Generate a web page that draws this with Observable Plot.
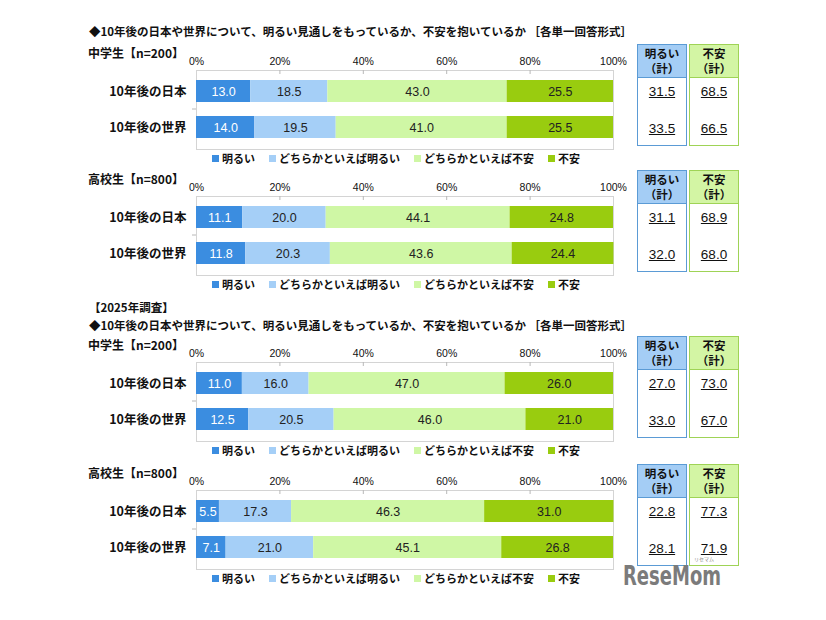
<!DOCTYPE html>
<html><head><meta charset="utf-8">
<script src="https://cdn.jsdelivr.net/npm/d3@7"></script>
<script src="https://cdn.jsdelivr.net/npm/@observablehq/plot@0.6"></script>
<style>
body{margin:0;background:#fff;}
#root{position:relative;width:826px;height:620px;overflow:hidden;font-family:"Noto Sans CJK JP",sans-serif;color:#111;background:#fff;}
.t{position:absolute;white-space:nowrap;font-weight:bold;}
.plot{position:absolute;left:0;}
.lg-swatches{font-family:"Noto Sans CJK JP",sans-serif !important;font-weight:bold !important;font-size:11px !important;color:#111 !important;min-height:0 !important;margin:0 !important;line-height:13px !important;}
.lg-swatch{margin-right:14px !important;}
.lg-swatch svg{margin-right:3px !important;}
.box{position:absolute;background:#fff;box-sizing:border-box;}
.box .hd{position:absolute;left:0;right:0;top:0;height:33px;box-sizing:border-box;text-align:center;font-weight:bold;font-size:11.5px;line-height:15px;padding-top:1px;}
.box .v{position:absolute;left:0;right:0;text-align:center;font-family:"Liberation Sans",Arial,sans-serif;font-size:13.5px;text-decoration:underline;color:#111;line-height:14px;}
.logo{position:absolute;font-family:"Liberation Sans Narrow","DejaVu Sans Condensed",sans-serif;font-weight:bold;color:#7b7b7b;font-size:26px;line-height:26px;white-space:nowrap;transform-origin:0 0;}
</style></head><body><div id="root"></div>
<script>
// ---- data ----
const categories = ["10年後の日本", "10年後の世界"];
const responses = ["明るい", "どちらかといえば明るい", "どちらかといえば不安", "不安"];
const colors = ["#3b8de0", "#a5cff7", "#cff7a5", "#99cc0f"];
const xTicks = [0, 20, 40, 60, 80, 100];
const panelLabels = ["中学生【n=200】", "高校生【n=800】", "中学生【n=200】", "高校生【n=800】"];
const questionTitle = "◆10年後の日本や世界について、明るい見通しをもっているか、不安を抱いているか ［各単一回答形式］";
const surveyLabel = "【2025年調査】";
const jhs2024 = [[13.0, 18.5, 43.0, 25.5], [14.0, 19.5, 41.0, 25.5]];
const hs2024 = [[11.1, 20.0, 44.1, 24.8], [11.8, 20.3, 43.6, 24.4]];
const jhs2025 = [[11.0, 16.0, 47.0, 26.0], [12.5, 20.5, 46.0, 21.0]];
const hs2025 = [[5.5, 17.3, 46.3, 31.0], [7.1, 21.0, 45.1, 26.8]];
const brightTotal = [[31.5, 33.5], [31.1, 32.0], [27.0, 33.0], [22.8, 28.1]];
const anxiousTotal = [[68.5, 66.5], [68.9, 68.0], [73.0, 67.0], [77.3, 71.9]];
const boxHeads = ["明るい<br>（計）", "不安<br>（計）"];

// ---- layout ----
const root = document.getElementById("root");
const panels = [jhs2024, hs2024, jhs2025, hs2025];
const frameTops = [70, 196, 362, 490];
const FH = 79;

function addText(txt, x, yc, size, extra) {
  const d = document.createElement("div");
  d.className = "t";
  d.textContent = txt;
  d.style.left = x + "px";
  d.style.fontSize = size + "px";
  d.style.lineHeight = size + "px";
  d.style.top = (yc - size / 2) + "px";
  if (extra) Object.assign(d.style, extra);
  root.appendChild(d);
  return d;
}

function panelPlot(vals) {
  const data = [];
  categories.forEach((c, i) => responses.forEach((r, j) => data.push({cat: c, resp: r, value: vals[i][j]})));
  return Plot.plot({
    width: 826, height: 22 + FH + 2,
    marginLeft: 196, marginRight: 213, marginTop: 22, marginBottom: 2,
    style: {fontFamily: "'Liberation Sans', Arial, sans-serif", background: "transparent", color: "#111"},
    x: {domain: [0, 100]},
    y: {domain: categories, paddingInner: 0.378, paddingOuter: 0.257},
    color: {domain: responses, range: colors},
    marks: [
      Plot.frame({stroke: "#d4d4d4"}),
      Plot.tickX(xTicks.slice(1, -1), {x: d => d, stroke: "#b8b8b8", insetBottom: FH - 4}),
      Plot.ruleY([categories[1]], {y: d => d, dy: -18.5, stroke: "#b8b8b8", insetLeft: -4, insetRight: 417}),
      Plot.barX(data, {x: "value", y: "cat", fill: "resp", order: responses}),
      Plot.text(data, Plot.stackX({
        x: "value", y: "cat", z: "resp", order: responses,
        text: d => d.value.toFixed(1),
        fill: d => d.resp === responses[0] ? "#ffffff" : "#222",
        fontSize: 12.5
      })),
      Plot.axisX({anchor: "top", ticks: xTicks, tickSize: 0, tickPadding: 6, tickFormat: d => d + "%", fontSize: 10.5, label: null}),
      Plot.axisY({anchor: "left", tickSize: 0, tickPadding: 10, fontSize: 12.5, fontWeight: "bold",
        fontFamily: "'Noto Sans CJK JP', sans-serif", label: null})
    ]
  });
}

function addBox(x, top, headHtml, vals, border, fill) {
  const b = document.createElement("div");
  b.className = "box";
  Object.assign(b.style, {left: x + "px", top: top + "px", width: "50px", height: "102px", border: "1px solid " + border});
  const h = document.createElement("div");
  h.className = "hd";
  h.innerHTML = headHtml;
  Object.assign(h.style, {background: fill, borderBottom: "1px solid " + border});
  b.appendChild(h);
  vals.forEach((v, i) => {
    const e = document.createElement("div");
    e.className = "v";
    e.textContent = v.toFixed(1);
    e.style.top = (i === 0 ? 40 : 77) + "px";
    b.appendChild(e);
  });
  root.appendChild(b);
}

// titles
addText(questionTitle, 89, 32, 11.5);
addText(surveyLabel, 89, 308, 11.5);
addText(questionTitle, 89, 326, 11.5);

panels.forEach((vals, k) => {
  const ft = frameTops[k];
  addText(panelLabels[k], 88, ft - 17, 12);
  const svg = panelPlot(vals);
  svg.classList.add("plot");
  svg.style.position = "absolute";
  svg.style.top = (ft - 22) + "px";
  root.appendChild(svg);
  const lg = Plot.legend({color: {domain: responses, range: colors}, legend: "swatches", swatchSize: 7, className: "lg"});
  lg.style.position = "absolute";
  lg.style.left = "212px";
  lg.style.top = (ft + FH + 3) + "px";
  root.appendChild(lg);
  addBox(637, ft - 26, boxHeads[0], brightTotal[k], "#5b9bd5", "#a4cdf5");
  addBox(689, ft - 26, boxHeads[1], anxiousTotal[k], "#9fd356", "#d3f5a4");
});

// watermark
const logo = document.createElement("div");
logo.className = "logo";
logo.textContent = "ReseMom";
logo.style.left = "623px";
logo.style.top = "563px";
root.appendChild(logo);
const lw = logo.getBoundingClientRect().width;
logo.style.transform = "scaleX(" + (98 / lw) + ")";
const logoSmall = document.createElement("div");
logoSmall.className = "t";
Object.assign(logoSmall.style, {left: "694px", top: "556px", fontSize: "5px", lineHeight: "5px", fontWeight: "normal", color: "#888"});
logoSmall.textContent = "リセマム";
root.appendChild(logoSmall);
</script></body></html>
